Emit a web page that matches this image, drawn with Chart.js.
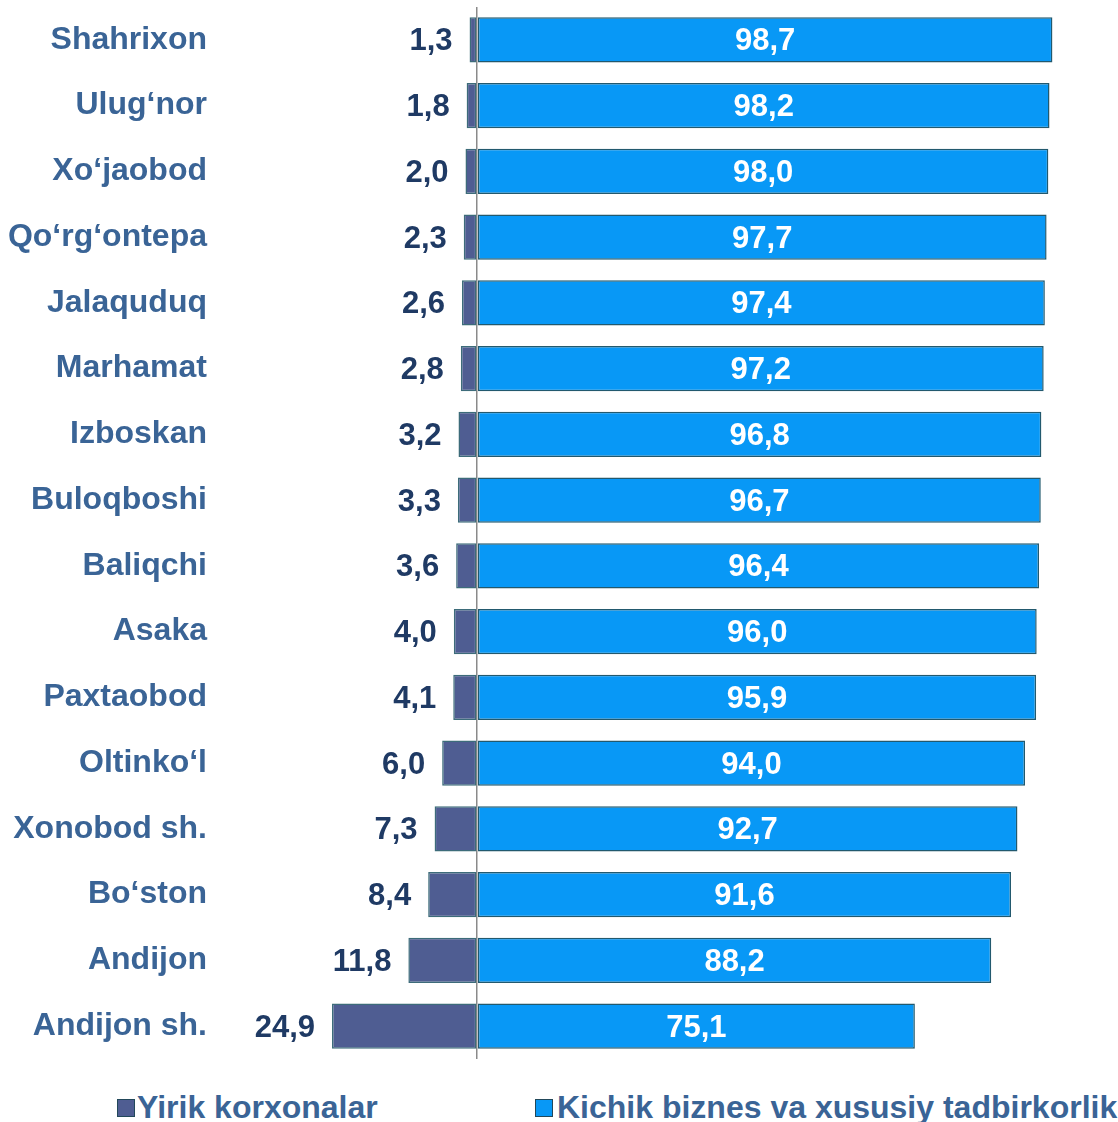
<!DOCTYPE html>
<html lang="uz">
<head>
  <meta charset="UTF-8">
  <title>Yirik korxonalar va kichik biznes ulushi</title>
  <script src="https://cdn.jsdelivr.net/npm/chart.js"></script>
  <style>
    body {
      margin: 0;
      background: #fff;
      font-family: 'Liberation Sans', Arial, sans-serif;
      overflow: hidden;
    }
    .wrap {
      position: relative;
      width: 1118px;
      height: 1122px;
    }
    #chart { position: absolute; left: 0; top: 0; }
    .legend-item {
      position: absolute;
      top: 1090px;
      height: 34px;
      line-height: 34px;
      font-size: 32px;
      font-weight: 700;
      color: #3a6496;
      white-space: nowrap;
    }
    .legend-item span.box {
      position: absolute;
      top: 9px;
      width: 16px;
      height: 16px;
      border: 1px solid #22485a;
    }
  </style>
</head>
<body>
  <div class="wrap">
    <canvas id="chart" width="1118" height="1059"></canvas>
    <div id="legend"></div>
  </div>
  <script>
    const districts = ['Shahrixon', 'Ulug‘nor', 'Xo‘jaobod', 'Qo‘rg‘ontepa', 'Jalaquduq', 'Marhamat',
      'Izboskan', 'Buloqboshi', 'Baliqchi', 'Asaka', 'Paxtaobod', 'Oltinko‘l', 'Xonobod sh.',
      'Bo‘ston', 'Andijon', 'Andijon sh.'];
    const seriesNames = ['Yirik korxonalar', 'Kichik biznes va xususiy tadbirkorlik'];
    const yirik = [1.3, 1.8, 2.0, 2.3, 2.6, 2.8, 3.2, 3.3, 3.6, 4.0, 4.1, 6.0, 7.3, 8.4, 11.8, 24.9];
    const kichik = [98.7, 98.2, 98.0, 97.7, 97.4, 97.2, 96.8, 96.7, 96.4, 96.0, 95.9, 94.0, 92.7, 91.6, 88.2, 75.1];

    const FONT = "'Liberation Sans', Arial, sans-serif";
    const colors = ['#4f5d92', '#0898f6'];

    const fmt = v => v.toFixed(1).replace('.', ',');

    // qiymat yorliqlari
    const valueLabels = {
      id: 'valueLabels',
      afterDatasetsDraw(chart) {
        const ctx = chart.ctx;
        ctx.save();
        ctx.font = 'bold 31px ' + FONT;
        ctx.textBaseline = 'middle';
        chart.getDatasetMeta(0).data.forEach((bar, i) => {
          ctx.fillStyle = '#1f3a64';
          ctx.textAlign = 'right';
          ctx.fillText(fmt(yirik[i]), bar.x - 17, bar.y + 2);
        });
        chart.getDatasetMeta(1).data.forEach((bar, i) => {
          ctx.fillStyle = '#ffffff';
          ctx.textAlign = 'center';
          ctx.fillText(fmt(kichik[i]), (bar.x + bar.base) / 2, bar.y + 2);
        });
        ctx.restore();
      }
    };

    new Chart(document.getElementById('chart'), {
      type: 'bar',
      data: {
        labels: districts,
        datasets: [
          {
            label: seriesNames[0],
            data: yirik.map(v => -v),
            backgroundColor: colors[0],
            borderColor: '#3d6c7a',
            borderWidth: 1.5,
            borderSkipped: false,
            barPercentage: 0.69,
            categoryPercentage: 1
          },
          {
            label: seriesNames[1],
            data: kichik,
            backgroundColor: colors[1],
            borderColor: '#22596e',
            borderWidth: 1.5,
            borderSkipped: false,
            barPercentage: 0.69,
            categoryPercentage: 1
          }
        ]
      },
      options: {
        indexAxis: 'y',
        responsive: false,
        animation: false,
        layout: { padding: { top: 7, bottom: 0, right: 58 } },
        plugins: {
          legend: { display: false },
          tooltip: { enabled: false }
        },
        scales: {
          x: {
            stacked: true,
            min: -40,
            max: 100,
            ticks: { display: false, stepSize: 10 },
            border: { display: false },
            grid: {
              drawTicks: false,
              lineWidth: 1.5,
              color: c => c.tick && c.tick.value === 0 ? '#8a8a8a' : 'rgba(0,0,0,0)'
            }
          },
          y: {
            stacked: true,
            afterFit(axis) {
              axis.width = 244;
              axis.paddingTop = 0;
              axis.paddingBottom = 0;
            },
            border: { display: false },
            grid: { display: false, drawTicks: false },
            ticks: {
              padding: 37,
              color: '#3a6496',
              font: { family: FONT, size: 32, weight: 'bold' }
            }
          }
        }
      },
      plugins: [valueLabels]
    });

    // legenda
    const legendPos = [[117, 137], [535, 557]];
    const legend = document.getElementById('legend');
    seriesNames.forEach((name, i) => {
      const div = document.createElement('div');
      div.className = 'legend-item';
      div.style.left = legendPos[i][0] + 'px';
      div.innerHTML = `<span class="box" style="left:0;background:${colors[i]}"></span>` +
        `<span style="position:absolute;left:${legendPos[i][1] - legendPos[i][0]}px">${name}</span>`;
      legend.appendChild(div);
    });
  </script>
</body>
</html>
